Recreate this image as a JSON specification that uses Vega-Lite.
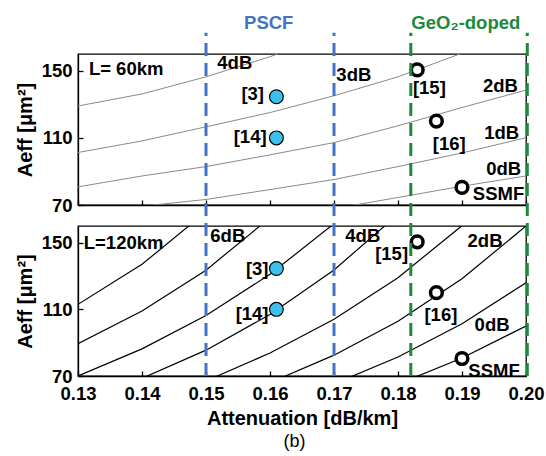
{
  "$schema": "https://vega.github.io/schema/vega-lite/v6.json",
  "autosize": {"type": "pad"},
  "padding": {"left": 14, "top": 13, "right": 2, "bottom": 4},
  "config": {
    "font": "Liberation Sans",
    "view": {"stroke": "black", "strokeWidth": 1.3},
    "axis": {
      "domainColor": "black", "domainWidth": 1.3, "tickColor": "black", "tickWidth": 1.3,
      "labelColor": "black", "titleColor": "black",
      "labelFont": "Liberation Sans", "titleFont": "Liberation Sans",
      "labelFontWeight": "bold", "labelFontSize": 18.5,
      "titleFontWeight": "bold", "titleFontSize": 20,
      "grid": false, "tickSize": -5, "labelPadding": 11,
      "labelOverlap": false, "labelFlush": false
    },
    "text": {"font": "Liberation Sans", "fontWeight": "bold", "fontSize": 18.5, "color": "black"}
  },
  "title": {"text": "(b)", "orient": "bottom", "anchor": "middle", "fontSize": 18, "fontWeight": "normal", "font": "Liberation Sans", "color": "black", "offset": 4, "dx": 15},
  "datasets": {
    "curves": [
      {"panel": "top", "curve": "t4", "x": 0.13, "y": 129},
      {"panel": "top", "curve": "t4", "x": 0.14, "y": 136.2},
      {"panel": "top", "curve": "t4", "x": 0.15, "y": 146.4},
      {"panel": "top", "curve": "t4", "x": 0.16, "y": 158.4},
      {"panel": "top", "curve": "t4", "x": 0.17, "y": 172},
      {"panel": "top", "curve": "t3", "x": 0.13, "y": 101.3},
      {"panel": "top", "curve": "t3", "x": 0.14, "y": 108.2},
      {"panel": "top", "curve": "t3", "x": 0.15, "y": 116.6},
      {"panel": "top", "curve": "t3", "x": 0.16, "y": 125.1},
      {"panel": "top", "curve": "t3", "x": 0.17, "y": 135.1},
      {"panel": "top", "curve": "t3", "x": 0.18, "y": 146.4},
      {"panel": "top", "curve": "t3", "x": 0.19, "y": 160.5},
      {"panel": "top", "curve": "t3", "x": 0.20, "y": 176},
      {"panel": "top", "curve": "t2", "x": 0.13, "y": 80.8},
      {"panel": "top", "curve": "t2", "x": 0.14, "y": 87.3},
      {"panel": "top", "curve": "t2", "x": 0.15, "y": 92.9},
      {"panel": "top", "curve": "t2", "x": 0.16, "y": 99.9},
      {"panel": "top", "curve": "t2", "x": 0.17, "y": 107.2},
      {"panel": "top", "curve": "t2", "x": 0.18, "y": 117.2},
      {"panel": "top", "curve": "t2", "x": 0.19, "y": 128.1},
      {"panel": "top", "curve": "t2", "x": 0.20, "y": 138.5},
      {"panel": "top", "curve": "t1", "x": 0.13, "y": 64.2},
      {"panel": "top", "curve": "t1", "x": 0.14, "y": 69.3},
      {"panel": "top", "curve": "t1", "x": 0.15, "y": 73.3},
      {"panel": "top", "curve": "t1", "x": 0.16, "y": 79.2},
      {"panel": "top", "curve": "t1", "x": 0.17, "y": 85.2},
      {"panel": "top", "curve": "t1", "x": 0.18, "y": 92.9},
      {"panel": "top", "curve": "t1", "x": 0.19, "y": 101},
      {"panel": "top", "curve": "t1", "x": 0.20, "y": 110.1},
      {"panel": "top", "curve": "t0", "x": 0.16, "y": 63},
      {"panel": "top", "curve": "t0", "x": 0.17, "y": 67.8},
      {"panel": "top", "curve": "t0", "x": 0.18, "y": 74.5},
      {"panel": "top", "curve": "t0", "x": 0.19, "y": 81.2},
      {"panel": "top", "curve": "t0", "x": 0.20, "y": 87.3},
      {"panel": "bottom", "curve": "b7", "x": 0.13, "y": 113},
      {"panel": "bottom", "curve": "b7", "x": 0.14, "y": 137},
      {"panel": "bottom", "curve": "b7", "x": 0.15, "y": 168.5},
      {"panel": "bottom", "curve": "b6", "x": 0.13, "y": 89.4},
      {"panel": "bottom", "curve": "b6", "x": 0.14, "y": 109},
      {"panel": "bottom", "curve": "b6", "x": 0.15, "y": 133.5},
      {"panel": "bottom", "curve": "b6", "x": 0.16, "y": 165},
      {"panel": "bottom", "curve": "b5", "x": 0.13, "y": 70},
      {"panel": "bottom", "curve": "b5", "x": 0.14, "y": 86.3},
      {"panel": "bottom", "curve": "b5", "x": 0.15, "y": 106.3},
      {"panel": "bottom", "curve": "b5", "x": 0.16, "y": 131},
      {"panel": "bottom", "curve": "b5", "x": 0.17, "y": 161.4},
      {"panel": "bottom", "curve": "b4", "x": 0.14, "y": 68.6},
      {"panel": "bottom", "curve": "b4", "x": 0.15, "y": 85.5},
      {"panel": "bottom", "curve": "b4", "x": 0.16, "y": 106.9},
      {"panel": "bottom", "curve": "b4", "x": 0.17, "y": 133.6},
      {"panel": "bottom", "curve": "b4", "x": 0.18, "y": 167},
      {"panel": "bottom", "curve": "b3", "x": 0.15, "y": 67},
      {"panel": "bottom", "curve": "b3", "x": 0.16, "y": 83.8},
      {"panel": "bottom", "curve": "b3", "x": 0.17, "y": 104},
      {"panel": "bottom", "curve": "b3", "x": 0.18, "y": 129},
      {"panel": "bottom", "curve": "b3", "x": 0.19, "y": 160.2},
      {"panel": "bottom", "curve": "b2", "x": 0.16, "y": 66},
      {"panel": "bottom", "curve": "b2", "x": 0.17, "y": 82.5},
      {"panel": "bottom", "curve": "b2", "x": 0.18, "y": 102.9},
      {"panel": "bottom", "curve": "b2", "x": 0.19, "y": 128.3},
      {"panel": "bottom", "curve": "b2", "x": 0.20, "y": 160},
      {"panel": "bottom", "curve": "b1", "x": 0.17, "y": 65.3},
      {"panel": "bottom", "curve": "b1", "x": 0.18, "y": 81.4},
      {"panel": "bottom", "curve": "b1", "x": 0.19, "y": 101.3},
      {"panel": "bottom", "curve": "b1", "x": 0.20, "y": 126},
      {"panel": "bottom", "curve": "b0", "x": 0.18, "y": 65.1},
      {"panel": "bottom", "curve": "b0", "x": 0.19, "y": 80.8},
      {"panel": "bottom", "curve": "b0", "x": 0.20, "y": 100}
    ],
    "refs": [
      {"ref": "[3]", "type": "PSCF", "x": 0.161, "y": 134.5},
      {"ref": "[14]", "type": "PSCF", "x": 0.161, "y": 110},
      {"ref": "[15]", "type": "GeO2", "x": 0.183, "y": 150.5},
      {"ref": "[16]", "type": "GeO2", "x": 0.186, "y": 120},
      {"ref": "SSMF", "type": "SSMF", "x": 0.19, "y": 80.5}
    ],
    "labels": [
      {"panel": "top", "label": "4dB", "x": 0.1545, "y": 154.5},
      {"panel": "top", "label": "3dB", "x": 0.1731, "y": 147.5},
      {"panel": "top", "label": "2dB", "x": 0.196, "y": 141},
      {"panel": "top", "label": "1dB", "x": 0.1962, "y": 113},
      {"panel": "top", "label": "0dB", "x": 0.1965, "y": 91.3},
      {"panel": "top", "label": "[3]", "x": 0.1573, "y": 136},
      {"panel": "top", "label": "[14]", "x": 0.1569, "y": 110.5},
      {"panel": "top", "label": "[15]", "x": 0.1849, "y": 139.6},
      {"panel": "top", "label": "[16]", "x": 0.188, "y": 106.5},
      {"panel": "top", "label": "SSMF", "x": 0.1957, "y": 76.4},
      {"panel": "bottom", "label": "6dB", "x": 0.1534, "y": 154},
      {"panel": "bottom", "label": "4dB", "x": 0.1745, "y": 154},
      {"panel": "bottom", "label": "2dB", "x": 0.1936, "y": 151},
      {"panel": "bottom", "label": "0dB", "x": 0.1947, "y": 100.4},
      {"panel": "bottom", "label": "[3]", "x": 0.158, "y": 134},
      {"panel": "bottom", "label": "[14]", "x": 0.1572, "y": 107.5},
      {"panel": "bottom", "label": "[15]", "x": 0.179, "y": 143},
      {"panel": "bottom", "label": "[16]", "x": 0.1867, "y": 106.5},
      {"panel": "bottom", "label": "SSMF", "x": 0.195, "y": 73}
    ],
    "lengths": [
      {"panel": "top", "label": "L= 60km", "x": 0.1317, "y": 151},
      {"panel": "bottom", "label": "L=120km", "x": 0.1309, "y": 150}
    ],
    "headers": [
      {"fiber": "PSCF", "label": "PSCF", "x": 0.1598, "y": 178.3},
      {"fiber": "GeO2", "label": "GeO₂-doped", "x": 0.1906, "y": 178.3}
    ],
    "bounds": [
      {"fiber": "PSCF", "x": 0.15},
      {"fiber": "PSCF", "x": 0.17},
      {"fiber": "GeO2", "x": 0.182},
      {"fiber": "GeO2", "x": 0.2002}
    ]
  },
  "spacing": 21,
  "bounds": "flush",
  "vconcat": [
    {
      "width": 448,
      "height": 151,
      "layer": [
        {
          "data": {"name": "curves"},
          "transform": [{"filter": "datum.panel == 'top'"}],
          "mark": {"type": "line", "clip": true, "color": "#8a8a8a", "strokeWidth": 1},
          "encoding": {
            "x": {"field": "x", "type": "quantitative",
                  "scale": {"domain": [0.13, 0.2], "nice": false, "zero": false},
                  "axis": {"values": [0.13, 0.14, 0.15, 0.16, 0.17, 0.18, 0.19, 0.2], "labels": false, "title": null}},
            "y": {"field": "y", "type": "quantitative",
                  "scale": {"domain": [70, 160], "nice": false, "zero": false},
                  "axis": {"values": [70, 80, 90, 100, 110, 120, 130, 140, 150],
                           "labelExpr": "datum.value % 20 == 10 ? datum.label : ''",
                           "title": "Aeff [μm²]", "titlePadding": 6}},
            "detail": {"field": "curve"}
          }
        },
        {
          "data": {"name": "refs"},
          "transform": [{"filter": "datum.type == 'PSCF'"}],
          "mark": {"type": "point", "shape": "circle", "filled": true, "fill": "#3CC0EC", "stroke": "black", "strokeWidth": 1.2, "size": 190, "opacity": 1},
          "encoding": {"x": {"field": "x", "type": "quantitative"}, "y": {"field": "y", "type": "quantitative"}}
        },
        {
          "data": {"name": "refs"},
          "transform": [{"filter": "datum.type != 'PSCF'"}],
          "mark": {"type": "point", "shape": "circle", "filled": true, "fill": "white", "stroke": "black", "strokeWidth": 3.5, "size": 137, "opacity": 1},
          "encoding": {"x": {"field": "x", "type": "quantitative"}, "y": {"field": "y", "type": "quantitative"}}
        },
        {
          "data": {"name": "labels"},
          "transform": [{"filter": "datum.panel == 'top'"}],
          "mark": {"type": "text", "align": "center", "baseline": "middle"},
          "encoding": {"x": {"field": "x", "type": "quantitative"}, "y": {"field": "y", "type": "quantitative"}, "text": {"field": "label"}}
        },
        {
          "data": {"name": "lengths"},
          "transform": [{"filter": "datum.panel == 'top'"}],
          "mark": {"type": "text", "align": "left", "baseline": "middle"},
          "encoding": {"x": {"field": "x", "type": "quantitative"}, "y": {"field": "y", "type": "quantitative"}, "text": {"field": "label"}}
        },
        {
          "data": {"name": "headers"},
          "mark": {"type": "text", "align": "center", "baseline": "middle"},
          "encoding": {
            "x": {"field": "x", "type": "quantitative"},
            "y": {"field": "y", "type": "quantitative"},
            "text": {"field": "label"},
            "color": {"field": "fiber", "type": "nominal", "scale": {"domain": ["PSCF", "GeO2"], "range": ["#4472C4", "#1A8A3C"]}, "legend": null}
          }
        }
      ]
    },
    {
      "width": 448,
      "height": 150,
      "layer": [
        {
          "data": {"name": "curves"},
          "transform": [{"filter": "datum.panel == 'bottom'"}],
          "mark": {"type": "line", "clip": true, "color": "black", "strokeWidth": 1.2},
          "encoding": {
            "x": {"field": "x", "type": "quantitative",
                  "scale": {"domain": [0.13, 0.2], "nice": false, "zero": false},
                  "axis": {"values": [0.13, 0.14, 0.15, 0.16, 0.17, 0.18, 0.19, 0.2], "format": ".2f",
                           "title": "Attenuation [dB/km]", "labelPadding": 13, "titlePadding": 6}},
            "y": {"field": "y", "type": "quantitative",
                  "scale": {"domain": [70, 160], "nice": false, "zero": false},
                  "axis": {"values": [70, 80, 90, 100, 110, 120, 130, 140, 150],
                           "labelExpr": "datum.value % 20 == 10 ? datum.label : ''",
                           "title": "Aeff [μm²]", "titlePadding": 6}},
            "detail": {"field": "curve"}
          }
        },
        {
          "data": {"name": "refs"},
          "transform": [{"filter": "datum.type == 'PSCF'"}],
          "mark": {"type": "point", "shape": "circle", "filled": true, "fill": "#3CC0EC", "stroke": "black", "strokeWidth": 1.2, "size": 190, "opacity": 1},
          "encoding": {"x": {"field": "x", "type": "quantitative"}, "y": {"field": "y", "type": "quantitative"}}
        },
        {
          "data": {"name": "refs"},
          "transform": [{"filter": "datum.type != 'PSCF'"}],
          "mark": {"type": "point", "shape": "circle", "filled": true, "fill": "white", "stroke": "black", "strokeWidth": 3.5, "size": 137, "opacity": 1},
          "encoding": {"x": {"field": "x", "type": "quantitative"}, "y": {"field": "y", "type": "quantitative"}}
        },
        {
          "data": {"name": "labels"},
          "transform": [{"filter": "datum.panel == 'bottom'"}],
          "mark": {"type": "text", "align": "center", "baseline": "middle"},
          "encoding": {"x": {"field": "x", "type": "quantitative"}, "y": {"field": "y", "type": "quantitative"}, "text": {"field": "label"}}
        },
        {
          "data": {"name": "lengths"},
          "transform": [{"filter": "datum.panel == 'bottom'"}],
          "mark": {"type": "text", "align": "left", "baseline": "middle"},
          "encoding": {"x": {"field": "x", "type": "quantitative"}, "y": {"field": "y", "type": "quantitative"}, "text": {"field": "label"}}
        },
        {
          "data": {"name": "bounds"},
          "mark": {"type": "rule", "strokeDash": [13, 7], "strokeWidth": 3},
          "encoding": {
            "x": {"field": "x", "type": "quantitative"},
            "y": {"datum": 70},
            "y2": {"datum": 276},
            "color": {"field": "fiber", "type": "nominal", "scale": {"domain": ["PSCF", "GeO2"], "range": ["#4472C4", "#1A8A3C"]}, "legend": null}
          }
        }
      ]
    }
  ]
}
